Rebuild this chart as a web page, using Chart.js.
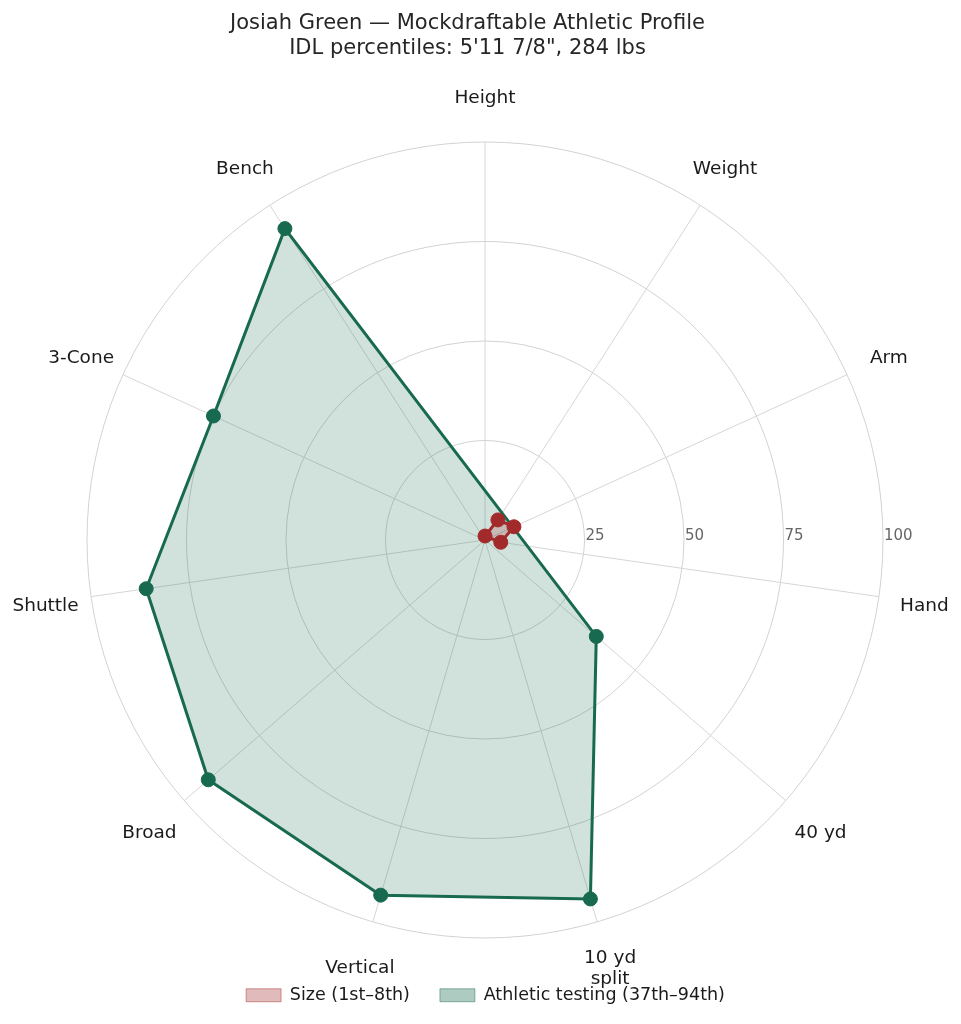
<!DOCTYPE html>
<html>
<head>
<meta charset="utf-8">
<script src="https://cdn.jsdelivr.net/npm/chart.js@4/dist/chart.umd.min.js"></script>
<style>
  html, body { margin: 0; padding: 0; background: #fff; }
  #wrap { width: 961px; height: 1024px; }
</style>
</head>
<body>
<div id="wrap"><canvas id="radar"></canvas></div>
<script>
// axes, clockwise from the top
const metrics = ['Height', 'Weight', 'Arm', 'Hand', '40 yd', ['10 yd', 'split'], 'Vertical', 'Broad', 'Shuttle', '3-Cone', 'Bench'];
// percentiles (null = not part of that group)
const sizePct = [1, 6, 8, 4, null, null, null, null, null, null, null];
const athleticPct = [null, null, null, null, 37, 94, 93, 92, 86, 75, 93];
const rTicks = [25, 50, 75, 100];

const titleLines = ['Josiah Green \u2014 Mockdraftable Athletic Profile', 'IDL percentiles: 5\'11 7/8", 284 lbs'];
const seriesNames = ['Size (1st\u20138th)', 'Athletic testing (37th\u201394th)'];

const RED = '#a32a2a';
const GREEN = '#17694f';
const FONT = 'DejaVu Sans';

// figure title (sits a little left of the polar centre, like the original)
const titlePlugin = {
  id: 'figTitle',
  afterDraw(chart) {
    const ctx = chart.ctx;
    ctx.save();
    ctx.font = '21px "' + FONT + '"';
    ctx.fillStyle = '#262626';
    ctx.textAlign = 'center';
    ctx.textBaseline = 'alphabetic';
    const cx = chart.width / 2 - 13;
    titleLines.forEach((t, i) => ctx.fillText(t, cx, 29 + i * 25));
    ctx.restore();
  }
};

// axis names drawn centred a fixed distance outside the outer ring
const axisNamePlugin = {
  id: 'axisNames',
  afterDraw(chart) {
    const scale = chart.scales.r;
    const ctx = chart.ctx;
    ctx.save();
    ctx.font = '18.5px "' + FONT + '"';
    ctx.fillStyle = '#1a1a1a';
    ctx.textAlign = 'center';
    ctx.textBaseline = 'middle';
    metrics.forEach((m, i) => {
      const pos = scale.getPointPosition(i, scale.drawingArea + 46);
      const lines = Array.isArray(m) ? m : [m];
      const lh = 21;
      lines.forEach((t, k) => {
        ctx.fillText(t, pos.x, pos.y + 2.5 + (k - (lines.length - 1) / 2) * lh);
      });
    });
    ctx.restore();
  }
};

// radial tick numbers along the east side
const tickPlugin = {
  id: 'eastTicks',
  afterDraw(chart) {
    const scale = chart.scales.r;
    const ctx = chart.ctx;
    ctx.save();
    ctx.font = '15px "' + FONT + '"';
    ctx.fillStyle = '#666666';
    ctx.textAlign = 'left';
    ctx.textBaseline = 'middle';
    rTicks.forEach(v => {
      const d = scale.getDistanceFromCenterForValue(v);
      ctx.fillText(String(v), scale.xCenter + d + 1, scale.yCenter - 4);
    });
    ctx.restore();
  }
};

new Chart(document.getElementById('radar'), {
  type: 'radar',
  data: {
    labels: metrics,
    datasets: [
      {
        label: seriesNames[0],
        data: sizePct,
        spanGaps: true,
        borderColor: RED,
        backgroundColor: 'rgba(163,42,42,0.22)',
        borderWidth: 3,
        fill: true,
        pointRadius: 7,
        pointHoverRadius: 7,
        pointBackgroundColor: RED,
        pointBorderColor: RED,
        pointBorderWidth: 1
      },
      {
        label: seriesNames[1],
        data: athleticPct,
        spanGaps: true,
        borderColor: GREEN,
        backgroundColor: 'rgba(23,105,79,0.2)',
        borderWidth: 3,
        fill: true,
        pointRadius: 7,
        pointHoverRadius: 7,
        pointBackgroundColor: GREEN,
        pointBorderColor: GREEN,
        pointBorderWidth: 1
      }
    ]
  },
  options: {
    responsive: true,
    maintainAspectRatio: false,
    animation: false,
    layout: { padding: { left: 87, right: 77, top: 142, bottom: 10 } },
    scales: {
      r: {
        min: 0,
        max: 100,
        ticks: { stepSize: 25, display: false },
        grid: { circular: true, color: '#d2d2d2', lineWidth: 1 },
        angleLines: { color: '#d6d6d6', lineWidth: 1 },
        pointLabels: { display: false }
      }
    },
    plugins: {
      title: { display: false },
      legend: {
        position: 'bottom',
        title: { display: true, text: '', font: { size: 1, lineHeight: 1 }, padding: { top: 17, bottom: 0 } },
        labels: {
          boxWidth: 35,
          boxHeight: 13,
          padding: 30,
          color: '#1a1a1a',
          font: { family: FONT, size: 17.5 },
          generateLabels(chart) {
            const fills = ['rgba(163,42,42,0.32)', 'rgba(23,105,79,0.35)'];
            const edges = ['rgba(163,42,42,0.45)', 'rgba(23,105,79,0.45)'];
            return chart.data.datasets.map((ds, i) => ({
              text: ds.label,
              fillStyle: fills[i],
              strokeStyle: edges[i],
              lineWidth: 1,
              fontColor: '#1a1a1a',
              hidden: false,
              datasetIndex: i
            }));
          }
        }
      },
      tooltip: { enabled: false }
    }
  },
  plugins: [titlePlugin, axisNamePlugin, tickPlugin]
});
</script>
</body>
</html>
